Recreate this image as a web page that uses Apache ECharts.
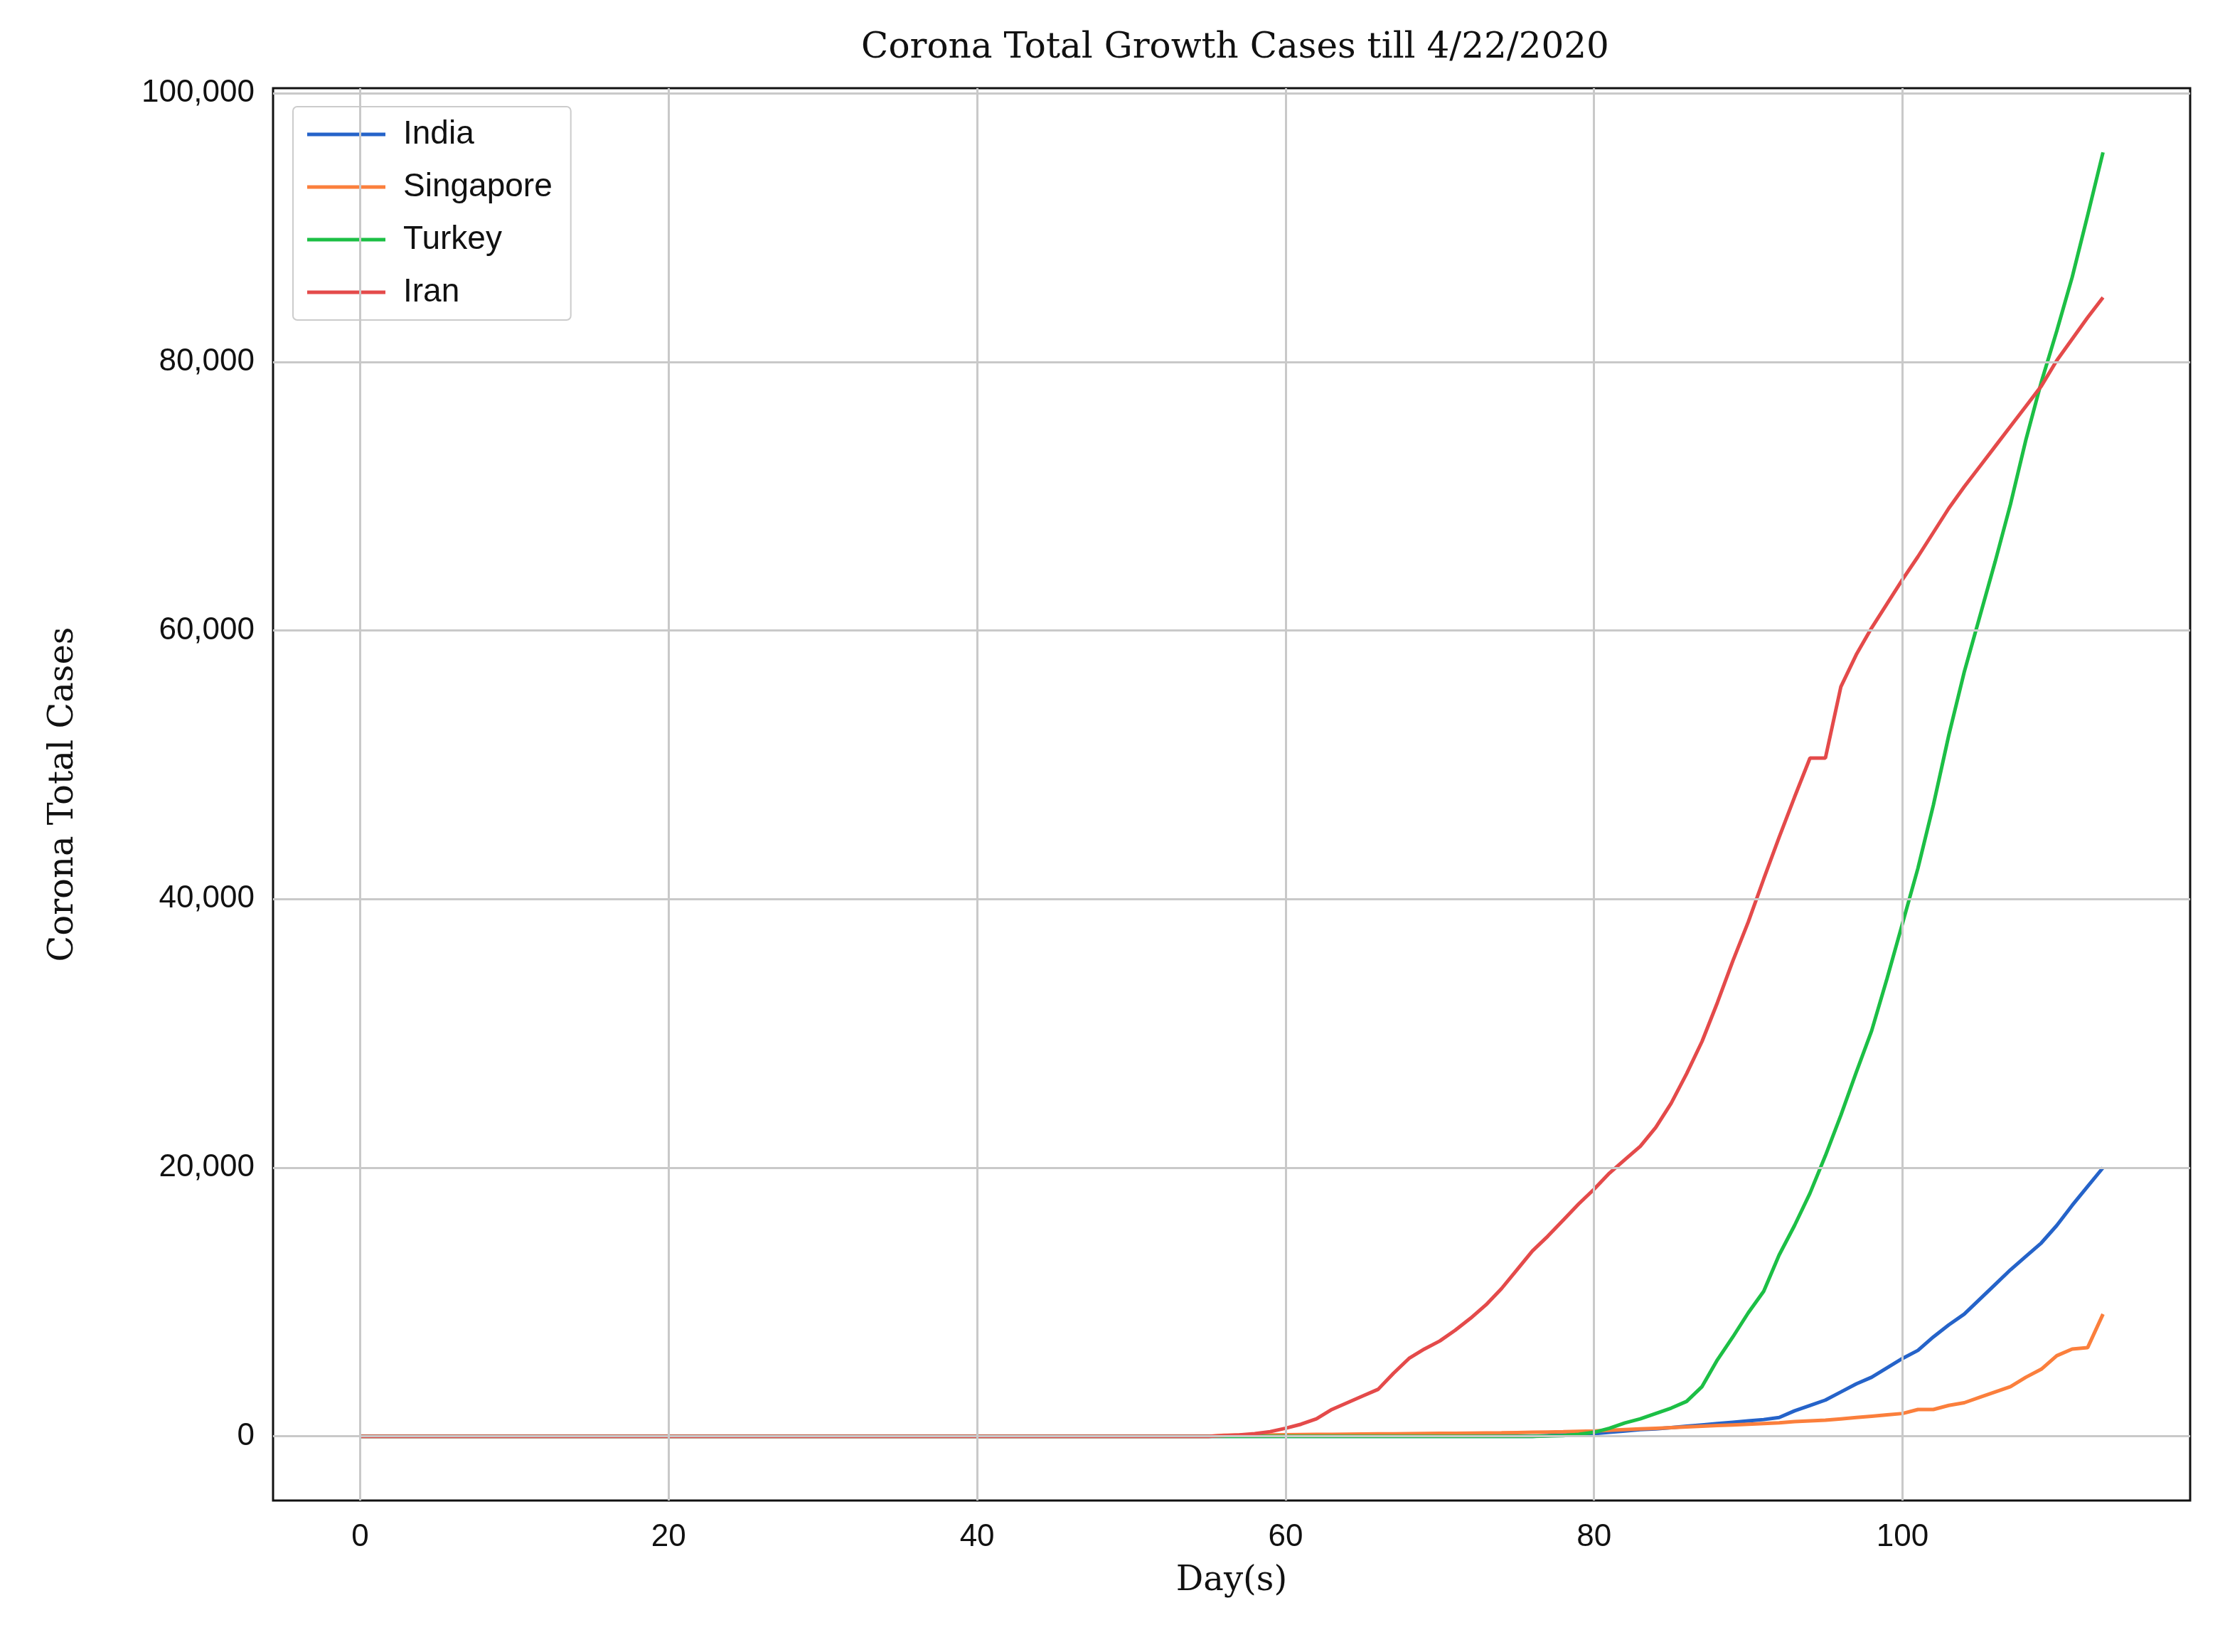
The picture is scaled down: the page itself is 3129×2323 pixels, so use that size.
<!DOCTYPE html><html><head><meta charset="utf-8">
<script src="https://cdn.jsdelivr.net/npm/echarts@6/dist/echarts.min.js"></script>
<style>html,body{margin:0;background:#fff}#c{width:3129px;height:2323px}</style></head><body><div id="c"></div>
<script>
const Z = new Array(56).fill(0);
const india = Z.concat([0,0,0,0,0,0,0,0,0,0,0,0,0,0,0,0,0,0,0,0,0,50,100,150,200,300,400,500,550,650,750,850,950,1050,1150,1250,1400,1900,2300,2700,3300,3900,4400,5100,5800,6400,7400,8300,9100,10200,11300,12400,13400,14400,15700,17200,18600,20000]);
const singapore = Z.concat([80,90,100,110,120,130,140,150,160,170,180,190,200,210,220,230,240,250,260,280,300,320,340,370,400,450,500,550,600,650,700,750,800,850,900,950,1000,1100,1150,1200,1300,1400,1500,1600,1700,2000,2000,2300,2500,2900,3300,3700,4400,5000,6000,6500,6600,9100]);
const turkey = Z.concat([0,0,0,0,0,0,0,0,0,0,0,0,0,0,0,0,0,0,0,0,0,20,50,150,300,600,1000,1300,1700,2100,2600,3700,5700,7400,9200,10800,13500,15700,18100,20900,23900,27100,30200,34100,38200,42300,47000,52200,56900,61000,65100,69400,74200,78500,82300,86300,90900,95600]);
const iran = Z.concat([50,100,200,350,600,900,1300,2000,2500,3000,3500,4700,5800,6500,7100,7900,8800,9800,11000,12400,13800,14900,16100,17300,18400,19600,20600,21600,23000,24800,27000,29400,32300,35400,38300,41500,44600,47600,50500,50500,55800,58200,60200,62000,63800,65500,67300,69100,70700,72200,73700,75200,76700,78200,80100,81700,83300,84800]);
const xTicks=[0,20,40,60,80,100];
const yTicks=[0,20000,40000,60000,80000,100000];
const days=india.map((_,i)=>i);
const names=['India','Singapore','Turkey','Iran'];
const colors=['#2563c9','#fb7f3c','#1cbf45','#e44a4a'];
const vals=[india,singapore,turkey,iran];
const grid='#c9c9c9';
const series=vals.map((v,k)=>({name:names[k],type:'line',symbol:'none',data:v.map((y,i)=>[days[i],y]),lineStyle:{width:5,color:colors[k]},itemStyle:{color:colors[k]},z:3}));
series.push({type:'line',data:[],silent:true,markLine:{silent:true,symbol:'none',label:{show:false},lineStyle:{color:grid,width:3,type:'solid'},
 data:xTicks.map(x=>({xAxis:x})).concat(yTicks.map(y=>({yAxis:y})))},z:1});
const c=echarts.init(document.getElementById('c'));
c.setOption({animation:false,backgroundColor:'#fff',
 title:{text:'Corona Total Growth Cases till 4/22/2020',left:1732,top:38,textAlign:'center',textStyle:{fontFamily:'DejaVu Serif',fontWeight:'normal',fontSize:50,color:'#111'}},
 legend:{data:names,orient:'vertical',left:412,top:150,backgroundColor:'#fff',borderColor:'#ccc',borderWidth:2,borderRadius:6,padding:[16,26,16,20],itemGap:28,icon:'rect',itemWidth:110,itemHeight:5,textStyle:{fontFamily:'Liberation Sans',fontSize:46,color:'#111',padding:[0,0,0,20]}},
 grid:{left:384,right:49,top:124,bottom:213,show:true,borderColor:'#111',borderWidth:3},
 xAxis:{type:'value',min:-5.65,max:118.65,splitLine:{show:false},axisLine:{show:false},axisTick:{show:false},
  axisLabel:{customValues:xTicks,fontFamily:'Liberation Sans',fontSize:44,color:'#111',margin:30},
  name:'Day(s)',nameLocation:'middle',nameGap:90,nameTextStyle:{fontFamily:'DejaVu Serif',fontSize:48,color:'#111'}},
 yAxis:{type:'value',min:-4780,max:100380,splitLine:{show:false},axisLine:{show:false},axisTick:{show:false},
  axisLabel:{customValues:yTicks,fontFamily:'Liberation Sans',fontSize:44,color:'#111',margin:26,formatter:v=>v.toLocaleString('en-US')},
  name:'Corona Total Cases',nameLocation:'middle',nameGap:270,nameTextStyle:{fontFamily:'DejaVu Serif',fontSize:48,color:'#111'}},
 series});
</script></body></html>
